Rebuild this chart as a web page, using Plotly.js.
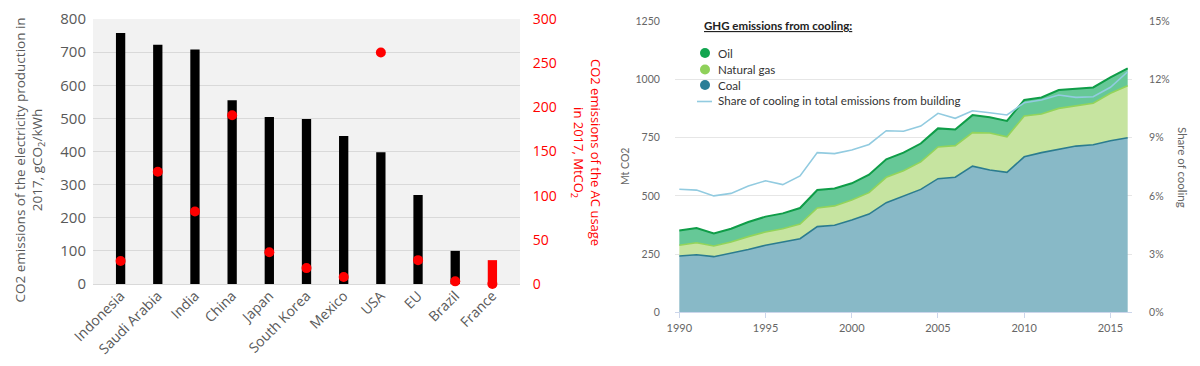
<!DOCTYPE html>
<html><head><meta charset="utf-8">
<script src="https://cdn.plot.ly/plotly-3.0.1.min.js"></script>
<style>html,body{margin:0;padding:0;background:#fff}#chart{width:1200px;height:366px}</style>
</head><body><div id="chart"></div>
<script>
// ---- Left panel data ----
const countries = ["Indonesia","Saudi Arabia","India","China","Japan","South Korea","Mexico","USA","EU","Brazil","France"];
const gridIntensity = [758,722,708,555,504,498,447,398,269,100,72];      // gCO2/kWh
const acEmissions = [26,127,82,191,36,18,8,262,27,3,0];                   // MtCO2

// ---- Right panel data ----
const years = [1990,1991,1992,1993,1994,1995,1996,1997,1998,1999,2000,2001,2002,2003,2004,2005,2006,2007,2008,2009,2010,2011,2012,2013,2014,2015,2016];
const coal = [242,247,239,253,270,288,302,316,368,374,396,422,471,500,528,574,580,628,611,601,668,686,700,714,720,737,750];
const naturalGas = [46,52,46,49,55,57,57,63,80,83,86,92,109,108,118,136,136,144,159,153,175,166,176,174,178,204,223];
const oil = [63,63,54,57,63,66,66,69,77,75,72,77,77,78,79,80,69,75,68,68,69,71,79,74,68,68,75];
const coolingShare = [6.34,6.3,6.0,6.13,6.51,6.78,6.58,7.03,8.23,8.18,8.37,8.65,9.36,9.33,9.6,10.26,10.0,10.39,10.29,10.17,10.8,10.94,11.2,11.08,11.11,11.6,12.4];

const W = 1200, H = 366;
const px = x => x / W;
const py = y => 1 - y / H;

const leftFont = "Open Sans, Noto Sans, sans-serif";
const rightFont = "Lato, Open Sans, sans-serif";
const gray = "#595959";
const red = "#ff0000";

const traces = [
  {
    type: "bar", x: countries, y: gridIntensity, xaxis: "x", yaxis: "y",
    width: 0.25,
    marker: { color: countries.map(c => c === "France" ? red : "#000000"), line: { width: 0 } },
    hoverinfo: "x+y"
  },
  {
    type: "scatter", mode: "markers", x: countries, y: acEmissions, xaxis: "x", yaxis: "y2",
    marker: { color: red, size: 10 }, cliponaxis: false
  },
  {
    type: "scatter", mode: "lines", x: years, y: coal, xaxis: "x2", yaxis: "y3",
    stackgroup: "ghg", name: "Coal",
    line: { color: "#2b7c8f", width: 1.6 }, fillcolor: "#88b9c7"
  },
  {
    type: "scatter", mode: "lines", x: years, y: naturalGas, xaxis: "x2", yaxis: "y3",
    stackgroup: "ghg", name: "Natural gas",
    line: { color: "#93d45a", width: 1.6 }, fillcolor: "#c6e4a0"
  },
  {
    type: "scatter", mode: "lines", x: years, y: oil, xaxis: "x2", yaxis: "y3",
    stackgroup: "ghg", name: "Oil",
    line: { color: "#0f9d48", width: 2 }, fillcolor: "#66c897"
  },
  {
    type: "scatter", mode: "lines", x: years, y: coolingShare, xaxis: "x2", yaxis: "y4",
    name: "Share of cooling", line: { color: "#92cbe0", width: 1.6 }
  }
];

const layout = {
  width: W, height: H, autosize: false,
  margin: { l: 0, r: 0, t: 0, b: 0 },
  paper_bgcolor: "#ffffff", plot_bgcolor: "rgba(0,0,0,0)",
  showlegend: false,
  font: { family: leftFont, color: gray },
  xaxis: {
    domain: [px(93), px(520)], anchor: "y", type: "category",
    tickangle: -45, tickfont: { family: leftFont, size: 14, color: gray },
    showgrid: false, showline: false, ticks: "", zeroline: false
  },
  yaxis: {
    domain: [py(284), py(19)], anchor: "x", range: [0, 800], dtick: 100,
    gridcolor: "#d9d9d9", gridwidth: 1, zeroline: true, zerolinecolor: "#d9d9d9", zerolinewidth: 1,
    showline: false, ticks: "outside", ticklen: 3, tickcolor: "rgba(0,0,0,0)",
    tickfont: { family: leftFont, size: 15, color: gray }
  },
  yaxis2: {
    overlaying: "y", side: "right", anchor: "x", range: [0, 300], dtick: 50,
    showgrid: false, zeroline: false, showline: false,
    ticks: "outside", ticklen: 9, tickcolor: "rgba(0,0,0,0)",
    tickfont: { family: leftFont, size: 14, color: red }
  },
  xaxis2: {
    domain: [px(675), px(1132)], anchor: "y3", range: [1989.75, 2016.25],
    tick0: 1990, dtick: 5, showgrid: false, zeroline: false,
    showline: true, linecolor: "#ccd6eb", linewidth: 1,
    ticks: "outside", ticklen: 5, tickcolor: "#ccd6eb",
    tickfont: { family: rightFont, size: 11, color: "#666666" }
  },
  yaxis3: {
    domain: [py(312.3), py(21.3)], anchor: "x2", range: [0, 1250], dtick: 250,
    gridcolor: "#e6e6e6", gridwidth: 1, zeroline: false, showline: false,
    ticks: "outside", ticklen: 12, tickcolor: "rgba(0,0,0,0)",
    tickfont: { family: rightFont, size: 10.5, color: "#666666" }
  },
  yaxis4: {
    overlaying: "y3", side: "right", anchor: "x2", range: [0, 15], dtick: 3, ticksuffix: "%",
    showgrid: false, zeroline: false, showline: false,
    ticks: "outside", ticklen: 14, tickcolor: "rgba(0,0,0,0)",
    tickfont: { family: rightFont, size: 10.5, color: "#666666" }
  },
  shapes: [
    { type: "rect", xref: "paper", yref: "paper", x0: px(93), x1: px(520), y0: py(284), y1: py(19),
      fillcolor: "#f2f2f2", line: { width: 0 }, layer: "below" },
    { type: "circle", xref: "paper", yref: "paper", x0: px(700), x1: px(710), y0: py(58), y1: py(48),
      fillcolor: "#12a54f", line: { width: 0 } },
    { type: "circle", xref: "paper", yref: "paper", x0: px(700), x1: px(710), y0: py(74.5), y1: py(64.5),
      fillcolor: "#8fd15a", line: { width: 0 } },
    { type: "circle", xref: "paper", yref: "paper", x0: px(700), x1: px(710), y0: py(90), y1: py(80),
      fillcolor: "#2a7e97", line: { width: 0 } },
    { type: "line", xref: "paper", yref: "paper", x0: px(697), x1: px(712), y0: py(101.5), y1: py(101.5),
      line: { color: "#92cbe0", width: 1.6 } }
  ],
  annotations: [
    { xref: "paper", yref: "paper", x: px(28.5), y: py(160), textangle: -90, showarrow: false,
      text: "CO2 emissions of the electricity production in<br>2017, gCO<sub>2</sub>/kWh",
      font: { family: leftFont, size: 13.5, color: gray }, align: "center", xanchor: "center", yanchor: "middle" },
    { xref: "paper", yref: "paper", x: px(587), y: py(152), textangle: 90, showarrow: false,
      text: "CO2 emissions of the AC usage<br>in 2017, MtCO<sub>2</sub>",
      font: { family: leftFont, size: 13, color: red }, align: "center", xanchor: "center", yanchor: "middle" },
    { xref: "paper", yref: "paper", x: px(702), y: py(26), xanchor: "left", yanchor: "middle", showarrow: false,
      text: "<u><b>GHG emissions from cooling:</b></u>", font: { family: rightFont, size: 11.5, color: "#222222" } },
    { xref: "paper", yref: "paper", x: px(716), y: py(53), xanchor: "left", yanchor: "middle", showarrow: false,
      text: "Oil", font: { family: rightFont, size: 11.6, color: "#333333" } },
    { xref: "paper", yref: "paper", x: px(716), y: py(69.5), xanchor: "left", yanchor: "middle", showarrow: false,
      text: "Natural gas", font: { family: rightFont, size: 11.6, color: "#333333" } },
    { xref: "paper", yref: "paper", x: px(716), y: py(85), xanchor: "left", yanchor: "middle", showarrow: false,
      text: "Coal", font: { family: rightFont, size: 11.6, color: "#333333" } },
    { xref: "paper", yref: "paper", x: px(716), y: py(101), xanchor: "left", yanchor: "middle", showarrow: false,
      text: "Share of cooling in total emissions from building", font: { family: rightFont, size: 11.6, color: "#333333" } },
    { xref: "paper", yref: "paper", x: px(625), y: py(167), textangle: -90, showarrow: false,
      text: "Mt CO2", font: { family: rightFont, size: 10.5, color: "#666666" }, xanchor: "center", yanchor: "middle" },
    { xref: "paper", yref: "paper", x: px(1182), y: py(167), textangle: 90, showarrow: false,
      text: "Share of cooling", font: { family: rightFont, size: 11.5, color: "#666666" }, xanchor: "center", yanchor: "middle" }
  ]
};

Plotly.newPlot("chart", traces, layout, { staticPlot: true, displayModeBar: false });
</script>
</body></html>
